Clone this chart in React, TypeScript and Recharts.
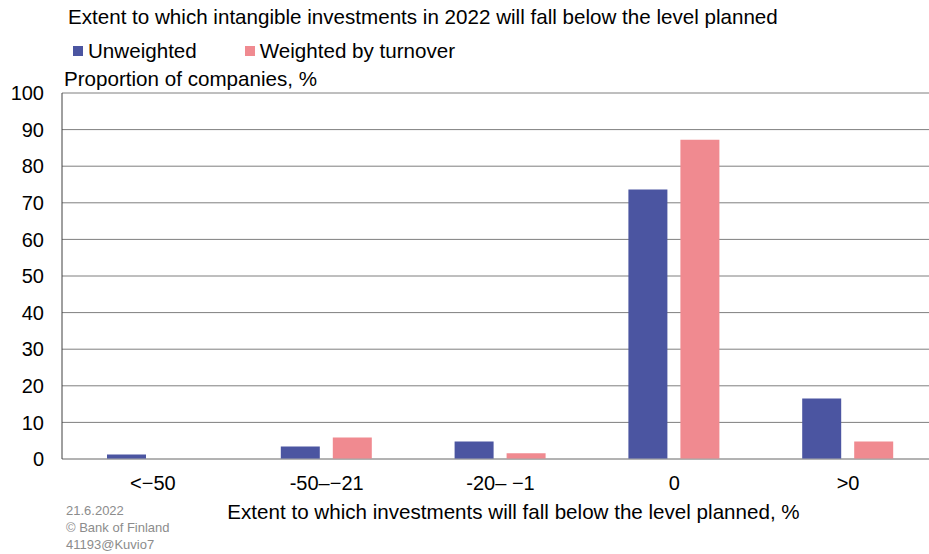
import React from "react";
import { BarChart, Bar, XAxis, YAxis, CartesianGrid } from "recharts";

const categories = ["<\u221250", "-50\u2013\u221221", "-20\u2013 \u22121", "0", ">0"];
const unweighted = [1.2, 3.4, 4.8, 73.6, 16.5];
const weighted = [0, 5.9, 1.6, 87.2, 4.8];
const yTicks = [0, 10, 20, 30, 40, 50, 60, 70, 80, 90, 100];

const seriesNames = ["Unweighted", "Weighted by turnover"];
const colors = ["#4B55A1", "#F08A90"];

const data = categories.map((c, i) => ({ cat: c, u: unweighted[i], w: weighted[i] }));

const FONT = "'Liberation Sans', Arial, sans-serif";

export default function App() {
  return (
    <div style={{ position: "absolute", left: 0, top: 0, width: 929, height: 554, background: "#fff", overflow: "hidden" }}>
      <div style={{ position: "absolute", left: 68, top: 5, fontFamily: FONT, fontSize: 20.6, color: "#000", whiteSpace: "nowrap" }}>
        Extent to which intangible investments in 2022 will fall below the level planned
      </div>
      <div style={{ position: "absolute", left: 73, top: 39, display: "flex", fontFamily: FONT, fontSize: 20.6, color: "#000", whiteSpace: "nowrap" }}>
        {seriesNames.map((n, i) => (
          <div key={n} style={{ display: "flex", alignItems: "center", marginRight: i === 0 ? 48 : 0 }}>
            <span style={{ display: "inline-block", width: 10, height: 10, background: colors[i], marginRight: 5 }} />
            <span>{n}</span>
          </div>
        ))}
      </div>
      <div style={{ position: "absolute", left: 64, top: 67, fontFamily: FONT, fontSize: 20.6, color: "#000", whiteSpace: "nowrap" }}>
        Proportion of companies, %
      </div>
      <div style={{ position: "absolute", left: 66, top: 502, fontFamily: FONT, fontSize: 13, lineHeight: "17px", color: "#8c8c8c" }}>
        <div>21.6.2022</div>
        <div>© Bank of Finland</div>
        <div>41193@Kuvio7</div>
      </div>
      <BarChart
        width={929}
        height={554}
        data={data}
        margin={{ top: 93, right: -6, bottom: 0, left: 0 }}
        barGap={13}
        barSize={39}
        style={{ position: "absolute", left: 0, top: 0 }}
      >
        <CartesianGrid vertical={false} stroke="#7f7f7f" strokeWidth={1} />
        <XAxis
          dataKey="cat"
          height={95}
          padding={{ left: 4, right: 0 }}
          tickLine={false}
          tickSize={0}
          tickMargin={17}
          stroke="#a6a6a6"
          tick={{ fill: "#000", fontSize: 20, fontFamily: FONT }}
          interval={0}
          label={{
            value: "Extent to which investments will fall below the level planned, %",
            position: "insideBottom",
            offset: 35,
            dx: 15,
            fill: "#000",
            fontSize: 20.6,
            fontFamily: FONT,
          }}
        />
        <YAxis
          width={62}
          domain={[0, 100]}
          ticks={yTicks}
          interval={0}
          tickLine={false}
          tickSize={0}
          tickMargin={18}
          stroke="#404040"
          tick={{ fill: "#000", fontSize: 20, fontFamily: FONT }}
        />
        <Bar dataKey="u" name={seriesNames[0]} fill={colors[0]} isAnimationActive={false} />
        <Bar dataKey="w" name={seriesNames[1]} fill={colors[1]} isAnimationActive={false} />
      </BarChart>
    </div>
  );
}
